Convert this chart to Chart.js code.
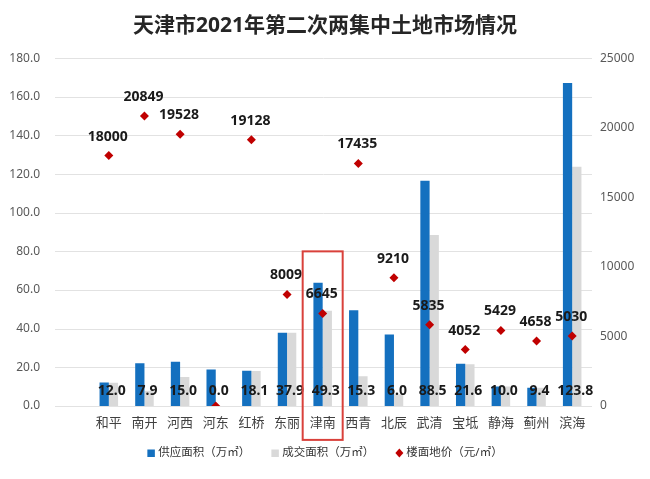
<!DOCTYPE html>
<html>
<head>
<meta charset="utf-8">
<script src="https://cdn.jsdelivr.net/npm/chart.js@4"></script>
<style>
  html, body { margin: 0; padding: 0; background: #fff; }
</style>
</head>
<body>
<canvas id="chart" width="650" height="479"></canvas>
<script>
  // 数据
  const categories = ['和平','南开','河西','河东','红桥','东丽','津南','西青','北辰','武清','宝坻','静海','蓟州','滨海'];
  const supplyArea = [12.1, 22.1, 22.8, 18.9, 18.2, 37.9, 63.7, 49.5, 36.9, 116.6, 21.8, 10.0, 9.4, 167.1];
  const dealArea   = [12.0, 7.9, 15.0, 0.0, 18.1, 37.9, 49.3, 15.3, 6.0, 88.5, 21.6, 10.0, 9.4, 123.8];
  const landPrice  = [18000, 20849, 19528, 0, 19128, 8009, 6645, 17435, 9210, 5835, 4052, 5429, 4658, 5030];
  const seriesNames = ['供应面积（万㎡）', '成交面积（万㎡）', '楼面地价（元/㎡）'];
  const titleText = '天津市2021年第二次两集中土地市场情况';
  const highlightCat = '津南';

  const FONT = "'Noto Sans', 'Noto Sans CJK SC', sans-serif";
  const BLUE = '#1470bf', GRAY = '#d9d9d9', RED = '#c00000';

  // 标题
  const topTitle = {
    id: 'topTitle',
    afterDraw(chart){
      const {ctx, width} = chart;
      ctx.save();
      ctx.font = 'bold 21px ' + FONT;
      ctx.fillStyle = '#262626';
      ctx.textAlign = 'center';
      ctx.textBaseline = 'middle';
      ctx.fillText(titleText, width / 2, 26);
      ctx.restore();
    }
  };

  // 横向网格线（比绘图区更靠左）
  const gridLines = {
    id: 'gridLines',
    beforeDatasetsDraw(chart){
      const {ctx, chartArea} = chart;
      const y = chart.scales.y;
      ctx.save();
      ctx.strokeStyle = '#e2e2e2';
      ctx.lineWidth = 1;
      y.ticks.forEach((t, i)=>{
        const py = Math.round(y.getPixelForTick(i)) + 0.5;
        ctx.beginPath();
        ctx.moveTo(55, py);
        ctx.lineTo(chartArea.right + 2, py);
        ctx.stroke();
      });
      ctx.restore();
    }
  };

  // 数据标签
  const valueLabels = {
    id: 'valueLabels',
    afterDatasetsDraw(chart){
      const {ctx} = chart;
      const x = chart.scales.x, y = chart.scales.y;
      ctx.save();
      ctx.font = 'bold 14px ' + FONT;
      ctx.fillStyle = '#1a1a1a';
      ctx.textAlign = 'center';
      ctx.textBaseline = 'middle';
      const base = y.getPixelForValue(0);
      dealArea.forEach((v, i)=>{
        ctx.fillText(v.toFixed(1), x.getPixelForValue(i) + 3, base - 15);
      });
      const meta = chart.getDatasetMeta(2);
      meta.data.forEach((pt, i)=>{
        if (!landPrice[i]) return;
        ctx.fillText(String(landPrice[i]), pt.x - 1, pt.y - 19);
      });
      ctx.restore();
    }
  };

  // 津南 红框
  const highlightBox = {
    id: 'highlightBox',
    afterDraw(chart){
      const {ctx, chartArea} = chart;
      const x = chart.scales.x, y = chart.scales.y;
      const cx = x.getPixelForValue(categories.indexOf(highlightCat));
      ctx.save();
      ctx.strokeStyle = '#d9413b';
      ctx.lineWidth = 2;
      ctx.strokeRect(cx - 20, y.getPixelForValue(80), 40, chartArea.bottom + 34 - y.getPixelForValue(80));
      ctx.restore();
    }
  };

  // 图例（底部居中）
  const bottomLegend = {
    id: 'bottomLegend',
    afterDraw(chart){
      const {ctx, width} = chart;
      const colors = [BLUE, GRAY, RED];
      const marker = 8, gap = 3, spacing = 21, ly = 453;
      ctx.save();
      ctx.font = '11.5px ' + FONT;
      ctx.textBaseline = 'middle';
      const widths = seriesNames.map(t => ctx.measureText(t).width);
      const total = widths.reduce((s, w) => s + w + marker + gap, 0) + spacing * (seriesNames.length - 1);
      let px = (width - total) / 2;
      seriesNames.forEach((t, i)=>{
        ctx.fillStyle = colors[i];
        if (i === 2) {
          ctx.beginPath();
          ctx.moveTo(px + 4, ly - 4.5); ctx.lineTo(px + 8, ly); ctx.lineTo(px + 4, ly + 4.5); ctx.lineTo(px, ly);
          ctx.closePath(); ctx.fill();
        } else {
          ctx.fillRect(px, ly - 3.5, 7.5, 7.5);
        }
        ctx.fillStyle = '#333';
        ctx.fillText(t, px + marker + gap, ly);
        px += marker + gap + widths[i] + spacing;
      });
      ctx.restore();
    }
  };

  new Chart(document.getElementById('chart'), {
    type: 'bar',
    data: {
      labels: categories,
      datasets: [
        { label: seriesNames[0], data: supplyArea, backgroundColor: BLUE, yAxisID: 'y', order: 2,
          categoryPercentage: 0.52, barPercentage: 1.0 },
        { label: seriesNames[1], data: dealArea, backgroundColor: GRAY, yAxisID: 'y', order: 2,
          categoryPercentage: 0.52, barPercentage: 1.0 },
        { type: 'line', label: seriesNames[2], data: landPrice, yAxisID: 'y1', order: 0,
          showLine: false, pointStyle: 'rectRot', pointRadius: 4.5, pointHoverRadius: 4.5,
          backgroundColor: RED, borderColor: RED, borderWidth: 0 }
      ]
    },
    options: {
      responsive: false,
      animation: false,
      layout: { padding: { left: 10, right: 14, top: 47.8, bottom: 37.5 } },
      scales: {
        x: {
          grid: { display: false, drawTicks: false },
          border: { display: false },
          ticks: { color: '#404040', font: { size: 13, family: FONT }, padding: 10,
                   maxRotation: 0, minRotation: 0, autoSkip: false }
        },
        y: {
          position: 'left',
          min: 0, max: 180,
          grid: { display: false, drawTicks: false },
          border: { display: false },
          ticks: { stepSize: 20, color: '#595959', font: { size: 12, family: FONT }, padding: 51,
                   callback: v => Number(v).toFixed(1) },
          afterFit: s => { s.width = 81; }
        },
        y1: {
          position: 'right',
          min: 0, max: 25000,
          grid: { display: false, drawTicks: false },
          border: { display: false },
          ticks: { stepSize: 5000, color: '#595959', font: { size: 12, family: FONT }, padding: 10,
                   callback: v => String(v) },
          afterFit: s => { s.width = 46; }
        }
      },
      plugins: {
        title: { display: false },
        legend: { display: false },
        tooltip: { enabled: false }
      }
    },
    plugins: [gridLines, valueLabels, highlightBox, bottomLegend, topTitle]
  });
</script>
</body>
</html>
